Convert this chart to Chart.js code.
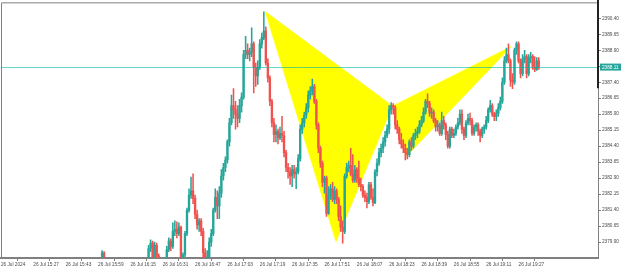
<!DOCTYPE html>
<html>
<head>
<meta charset="utf-8">
<title>XAUUSD M1</title>
<script src="https://cdn.jsdelivr.net/npm/chart.js@4.4.1/dist/chart.umd.min.js"></script>
<style>
  html, body { margin: 0; padding: 0; background: #fff; }
  #wrap { width: 625px; height: 271px; }
</style>
</head>
<body>
<div id="wrap"><canvas id="chart" width="625" height="271"></canvas></div>
<script>
'use strict';

// one-minute bars, index 0 = 15:11; arrays start at minute FIRST_MINUTE (null = bar off-screen)
const FIRST_MINUTE = 50;

const opens = [
  2379.00, 2379.40, null, null, null, null, null, null, null, null,
  null, null, null, null, null, null, null, null, null, null,
  null, null, null, 2379.10, 2379.60, 2379.85, 2379.20, 2379.75, 2379.25, null,
  null, null, 2379.05, 2379.55, 2379.95, 2379.70, 2380.40, 2380.50, 2380.30, 2380.60,
  2379.00, 2379.30, 2380.30, 2381.40, 2382.10, 2382.30, 2381.95, 2381.20, 2380.70, 2380.90,
  2380.40, 2379.40, 2379.10, 2379.20, 2379.90, 2380.30, 2381.40, 2382.00, 2381.60, 2382.20,
  2383.00, 2383.40, 2383.75, 2384.60, 2385.50, 2386.30, 2386.10, 2385.90, 2385.70, 2386.30,
  2386.70, 2388.70, 2388.90, 2388.70, 2388.80, 2389.20, 2388.10, 2387.70, 2388.10, 2389.20,
  2389.50, 2389.80, 2388.30, 2387.60, 2386.50, 2385.50, 2384.95, 2385.10, 2384.80, 2385.00,
  2384.90, 2384.10, 2383.40, 2383.20, 2383.00, 2383.30, 2383.10, 2383.20, 2383.80, 2385.20,
  2385.50, 2385.85, 2386.20, 2386.80, 2387.00, 2387.20, 2386.50, 2385.40, 2384.30, 2383.60,
  2382.70, 2382.90, 2381.25, 2382.10, 2382.40, 2381.90, 2382.30, 2381.90, 2381.10, 2380.60,
  2380.40, 2383.00, 2383.40, 2383.50, 2383.10, 2382.80, 2383.30, 2382.90, 2382.60, 2382.50,
  2382.10, 2382.00, 2381.80, 2382.60, 2382.00, 2381.75, 2383.20, 2383.60, 2384.10, 2384.30,
  2384.60, 2384.90, 2385.20, 2386.10, 2386.30, 2386.20, 2385.40, 2385.20, 2384.70, 2384.50,
  2384.30, 2384.10, 2384.00, 2384.60, 2384.40, 2384.90, 2385.00, 2385.10, 2385.40, 2385.60,
  2386.00, 2386.50, 2386.40, 2385.95, 2386.00, 2385.60, 2385.30, 2385.40, 2385.00, 2385.60,
  2385.40, 2384.95, 2384.40, 2385.20, 2384.90, 2385.00, 2385.30, 2385.50, 2385.90, 2385.20,
  2384.90, 2385.50, 2385.70, 2385.60, 2385.00, 2385.30, 2385.40, 2385.10, 2384.90, 2385.20,
  2385.30, 2385.60, 2386.10, 2386.30, 2385.90, 2385.80, 2385.95, 2386.20, 2386.50, 2387.40,
  2388.40, 2388.70, 2388.40, 2387.50, 2387.40, 2388.90, 2389.20, 2388.40, 2387.80, 2388.50,
  2388.60, 2387.80, 2388.55, 2388.60, 2388.10, 2388.00, 2388.40
];

const highs = [
  2379.50, 2379.45, null, null, null, null, null, null, null, null,
  null, null, null, null, null, null, null, null, null, null,
  null, null, null, 2379.75, 2380.00, 2379.95, 2379.90, 2379.85, 2379.35, null,
  null, null, 2379.70, 2380.10, 2380.05, 2380.80, 2380.90, 2380.85, 2380.80, 2380.65,
  2379.40, 2380.40, 2381.50, 2382.40, 2382.95, 2383.10, 2382.10, 2381.40, 2381.00, 2381.00,
  2380.55, 2379.60, 2379.50, 2380.10, 2380.50, 2381.50, 2382.40, 2382.30, 2382.50, 2383.30,
  2383.60, 2383.90, 2384.70, 2385.70, 2386.80, 2387.10, 2386.50, 2386.30, 2386.60, 2386.90,
  2388.90, 2389.55, 2389.20, 2389.00, 2389.95, 2389.30, 2388.30, 2388.40, 2389.40, 2389.70,
  2390.70, 2390.00, 2388.50, 2387.70, 2386.60, 2385.70, 2385.40, 2385.20, 2385.30, 2385.80,
  2385.10, 2384.20, 2383.60, 2383.40, 2383.50, 2383.50, 2383.40, 2384.00, 2385.40, 2385.70,
  2386.00, 2386.40, 2387.00, 2387.20, 2387.55, 2387.30, 2386.60, 2385.50, 2384.40, 2383.70,
  2383.00, 2383.00, 2382.50, 2382.60, 2382.70, 2382.50, 2382.40, 2382.00, 2381.60, 2380.90,
  2383.10, 2383.60, 2383.70, 2384.30, 2384.00, 2383.50, 2383.40, 2383.70, 2382.90, 2382.60,
  2382.30, 2382.20, 2382.70, 2382.70, 2382.40, 2383.30, 2383.80, 2384.30, 2384.50, 2384.80,
  2385.10, 2385.40, 2386.30, 2386.45, 2386.40, 2386.30, 2385.60, 2385.30, 2385.00, 2384.70,
  2384.50, 2384.30, 2384.70, 2384.80, 2385.00, 2385.20, 2385.30, 2385.60, 2385.80, 2386.20,
  2386.60, 2386.85, 2386.50, 2386.20, 2386.10, 2385.70, 2385.60, 2385.50, 2386.00, 2385.80,
  2385.50, 2385.10, 2385.30, 2385.30, 2385.20, 2385.40, 2385.70, 2386.10, 2386.10, 2385.30,
  2385.60, 2385.90, 2385.95, 2385.70, 2385.40, 2385.50, 2385.50, 2385.20, 2385.30, 2385.40,
  2385.80, 2386.20, 2386.55, 2386.40, 2386.00, 2386.10, 2386.40, 2386.70, 2387.60, 2388.60,
  2389.00, 2389.20, 2388.50, 2387.80, 2389.00, 2389.30, 2389.30, 2388.50, 2388.70, 2388.90,
  2388.70, 2388.70, 2388.80, 2388.70, 2388.60, 2388.55, 2388.55
];

const lows = [
  2378.90, 2378.80, null, null, null, null, null, null, null, null,
  null, null, null, null, null, null, null, null, null, null,
  null, null, null, 2379.00, 2379.45, 2379.00, 2379.00, 2379.00, 2378.90, null,
  null, null, 2379.00, 2379.45, 2379.50, 2379.60, 2380.20, 2380.10, 2380.20, 2378.90,
  2378.90, 2379.20, 2380.20, 2381.30, 2381.95, 2381.70, 2381.00, 2380.50, 2380.40, 2380.20,
  2379.10, 2378.90, 2378.90, 2379.10, 2379.70, 2380.20, 2381.30, 2381.00, 2381.00, 2382.00,
  2382.80, 2383.20, 2383.60, 2384.40, 2385.40, 2385.70, 2385.20, 2385.30, 2385.50, 2386.00,
  2386.60, 2388.50, 2388.50, 2388.40, 2388.60, 2386.90, 2387.20, 2387.30, 2388.00, 2389.00,
  2389.40, 2388.20, 2387.40, 2386.30, 2385.30, 2384.60, 2384.60, 2384.50, 2384.70, 2384.60,
  2383.90, 2383.20, 2382.90, 2382.60, 2382.50, 2382.90, 2382.40, 2383.10, 2383.70, 2385.00,
  2385.30, 2385.70, 2386.00, 2386.60, 2386.80, 2386.40, 2385.20, 2384.10, 2383.40, 2382.50,
  2382.20, 2381.10, 2381.20, 2381.90, 2381.80, 2381.70, 2381.70, 2380.90, 2380.40, 2379.85,
  2380.30, 2382.90, 2383.20, 2383.00, 2382.70, 2382.70, 2382.70, 2382.50, 2382.30, 2382.00,
  2381.80, 2381.50, 2381.70, 2381.90, 2381.60, 2381.70, 2383.00, 2383.50, 2383.90, 2384.10,
  2384.40, 2384.80, 2385.00, 2385.90, 2385.90, 2385.20, 2385.00, 2384.50, 2384.30, 2384.10,
  2383.75, 2383.80, 2383.90, 2384.20, 2384.30, 2384.70, 2384.80, 2385.00, 2385.30, 2385.50,
  2385.90, 2386.20, 2385.80, 2385.70, 2385.50, 2385.10, 2385.10, 2384.90, 2384.90, 2385.20,
  2384.70, 2384.30, 2384.30, 2384.80, 2384.80, 2384.90, 2385.20, 2385.40, 2385.00, 2384.70,
  2384.80, 2385.40, 2385.40, 2384.90, 2384.90, 2385.10, 2384.90, 2384.60, 2384.80, 2385.00,
  2385.20, 2385.50, 2386.00, 2385.80, 2385.60, 2385.60, 2385.80, 2386.10, 2386.40, 2387.30,
  2388.30, 2388.30, 2387.20, 2387.10, 2387.30, 2388.70, 2388.30, 2387.60, 2387.70, 2388.30,
  2387.60, 2387.70, 2388.30, 2388.00, 2387.90, 2387.95, 2388.00
];

const closes = [
  2379.40, 2379.00, null, null, null, null, null, null, null, null,
  null, null, null, null, null, null, null, null, null, null,
  null, null, null, 2379.60, 2379.85, 2379.20, 2379.75, 2379.25, 2379.05, null,
  null, null, 2379.55, 2379.95, 2379.70, 2380.40, 2380.50, 2380.30, 2380.60, 2379.00,
  2379.30, 2380.30, 2381.40, 2382.10, 2382.30, 2381.95, 2381.20, 2380.70, 2380.90, 2380.40,
  2379.40, 2379.10, 2379.20, 2379.90, 2380.30, 2381.40, 2382.00, 2381.60, 2382.20, 2383.00,
  2383.40, 2383.75, 2384.60, 2385.50, 2386.30, 2386.10, 2385.90, 2385.70, 2386.30, 2386.70,
  2388.70, 2388.90, 2388.70, 2388.80, 2389.20, 2388.10, 2387.70, 2388.10, 2389.20, 2389.50,
  2389.80, 2388.30, 2387.60, 2386.50, 2385.50, 2384.95, 2385.10, 2384.80, 2385.00, 2384.90,
  2384.10, 2383.40, 2383.20, 2383.00, 2383.30, 2383.10, 2383.20, 2383.80, 2385.20, 2385.50,
  2385.85, 2386.20, 2386.80, 2387.00, 2387.20, 2386.50, 2385.40, 2384.30, 2383.60, 2382.70,
  2382.90, 2381.25, 2382.10, 2382.40, 2381.90, 2382.30, 2381.90, 2381.10, 2380.60, 2380.40,
  2383.00, 2383.40, 2383.50, 2383.10, 2382.80, 2383.30, 2382.90, 2382.60, 2382.50, 2382.10,
  2382.00, 2381.80, 2382.60, 2382.00, 2381.75, 2383.20, 2383.60, 2384.10, 2384.30, 2384.60,
  2384.90, 2385.20, 2386.10, 2386.30, 2386.20, 2385.40, 2385.20, 2384.70, 2384.50, 2384.30,
  2384.10, 2384.00, 2384.60, 2384.40, 2384.90, 2385.00, 2385.10, 2385.40, 2385.60, 2386.00,
  2386.50, 2386.40, 2385.95, 2386.00, 2385.60, 2385.30, 2385.40, 2385.00, 2385.60, 2385.40,
  2384.95, 2384.40, 2385.20, 2384.90, 2385.00, 2385.30, 2385.50, 2385.90, 2385.20, 2384.90,
  2385.50, 2385.70, 2385.60, 2385.00, 2385.30, 2385.40, 2385.10, 2384.90, 2385.20, 2385.30,
  2385.60, 2386.10, 2386.30, 2385.90, 2385.80, 2385.95, 2386.20, 2386.50, 2387.40, 2388.40,
  2388.70, 2388.40, 2387.50, 2387.40, 2388.90, 2389.20, 2388.40, 2387.80, 2388.50, 2388.60,
  2387.80, 2388.55, 2388.60, 2388.10, 2388.00, 2388.40, 2388.11
];

const timeTickMinutes = [0, 16, 32, 48, 64, 80, 96, 112, 128, 144, 160, 176, 192, 208, 224, 240, 256];
const timeLabels = [
  '26 Jul 2024', '26 Jul 15:27', '26 Jul 15:43', '26 Jul 15:59', '26 Jul 16:15',
  '26 Jul 16:31', '26 Jul 16:47', '26 Jul 17:03', '26 Jul 17:19', '26 Jul 17:35',
  '26 Jul 17:51', '26 Jul 18:07', '26 Jul 18:23', '26 Jul 18:39', '26 Jul 18:55',
  '26 Jul 19:11', '26 Jul 19:27'
];
const priceTicks = [
  2379.90, 2380.65, 2381.40, 2382.15, 2382.90, 2383.65, 2384.40, 2385.15,
  2385.90, 2386.65, 2387.40, 2388.15, 2388.90, 2389.65, 2390.40
];
const lastPrice = 2388.11;

// harmonic pattern points X, A, B, C, D
const patternMinutes = [130.6, 165.7, 193.7, 200.3, 252.6];
const patternPrices = [2390.73, 2379.91, 2386.29, 2383.90, 2389.09];
const patternTriangles = [[0, 1, 2, 0], [2, 3, 4, 2]];

const BULL = '#26a69a';
const BEAR = '#ef5350';
const PATTERN = '#ffff00';
const PRICE_LINE = '#00b8a8';
const TEXT = '#4a4a4a';
const FRAME = '#808080';
const FONT = { family: 'Liberation Sans, Arial, sans-serif', size: 4.7, lineHeight: 1 };

const bodies = [];
const wicks = [];
const colors = [];
opens.forEach(function (open, i) {
  if (open === null) return;
  const minute = FIRST_MINUTE + i;
  bodies.push({ x: minute, y: [open, closes[i]] });
  wicks.push({ x: minute, y: [lows[i], highs[i]] });
  colors.push(closes[i] >= open ? BULL : BEAR);
});

const patternDatasets = patternTriangles.map(function (tri) {
  return {
    type: 'line',
    data: tri.map(function (k) { return { x: patternMinutes[k], y: patternPrices[k] }; }),
    fill: 'shape',
    backgroundColor: PATTERN,
    borderColor: PATTERN,
    borderWidth: 0.5,
    pointRadius: 0,
    tension: 0,
    order: 5
  };
});

const framePlugin = {
  id: 'frame',
  afterDraw: function (chart) {
    const ctx = chart.ctx;
    const area = chart.chartArea;
    const y = chart.scales.y.getPixelForValue(lastPrice);
    const lineY = Math.round(y) + 0.5;
    ctx.save();

    // current price line
    ctx.strokeStyle = PRICE_LINE;
    ctx.globalAlpha = 0.6;
    ctx.lineWidth = 1;
    ctx.beginPath();
    ctx.moveTo(area.left + 1, lineY);
    ctx.lineTo(area.right - 1, lineY);
    ctx.stroke();
    ctx.globalAlpha = 1;

    // frame
    ctx.strokeStyle = FRAME;
    ctx.beginPath();
    ctx.moveTo(area.left + 0.5, area.bottom);
    ctx.lineTo(area.left + 0.5, area.top - 0.5);
    ctx.lineTo(area.right, area.top - 0.5);
    ctx.stroke();
    ctx.strokeStyle = '#222';
    ctx.lineWidth = 2;
    ctx.beginPath();
    ctx.moveTo(area.right, 0);
    ctx.lineTo(area.right, area.top + 85);
    ctx.stroke();

    // current price label
    ctx.fillStyle = BULL;
    ctx.fillRect(area.right + 2, y - 3.5, 21, 7);
    ctx.fillStyle = '#ffffff';
    ctx.font = FONT.size + 'px ' + FONT.family;
    ctx.textBaseline = 'middle';
    ctx.textAlign = 'left';
    ctx.fillText(lastPrice.toFixed(2), area.right + 4, y + 0.3);
    ctx.restore();
  }
};

new Chart(document.getElementById('chart'), {
  type: 'bar',
  data: {
    datasets: patternDatasets.concat([
      {
        label: 'wicks',
        data: wicks,
        backgroundColor: colors,
        barThickness: 0.9,
        grouped: false,
        clip: 0,
        order: 2
      },
      {
        label: 'bodies',
        data: bodies,
        backgroundColor: colors,
        barThickness: 1.7,
        minBarLength: 0.6,
        grouped: false,
        clip: 0,
        order: 1
      }
    ])
  },
  options: {
    responsive: false,
    animation: false,
    layout: { padding: { left: 1, top: 2, right: 0, bottom: 0 } },
    plugins: {
      legend: { display: false },
      tooltip: { enabled: false }
    },
    scales: {
      x: {
        type: 'linear',
        min: 0,
        max: 295.3,
        offset: false,
        afterBuildTicks: function (scale) {
          scale.ticks = timeTickMinutes.map(function (v) { return { value: v }; });
        },
        afterFit: function (scale) { scale.height = 13; },
        ticks: {
          autoSkip: false,
          maxRotation: 0,
          align: 'start',
          padding: 1,
          color: TEXT,
          font: FONT,
          callback: function (value, index) { return timeLabels[index]; }
        },
        grid: { drawOnChartArea: false, tickLength: 3, color: FRAME },
        border: { color: FRAME, width: 2 }
      },
      y: {
        position: 'right',
        min: 2379.153,
        max: 2391.10,
        afterBuildTicks: function (scale) {
          scale.ticks = priceTicks.map(function (v) { return { value: v }; });
        },
        afterFit: function (scale) { scale.width = 27; },
        ticks: {
          padding: 1,
          color: TEXT,
          font: FONT,
          callback: function (value) { return Number(value).toFixed(2); }
        },
        grid: { drawOnChartArea: false, tickLength: 3, color: FRAME },
        border: { color: FRAME, width: 1 }
      }
    }
  },
  plugins: [framePlugin]
});
</script>
</body>
</html>
